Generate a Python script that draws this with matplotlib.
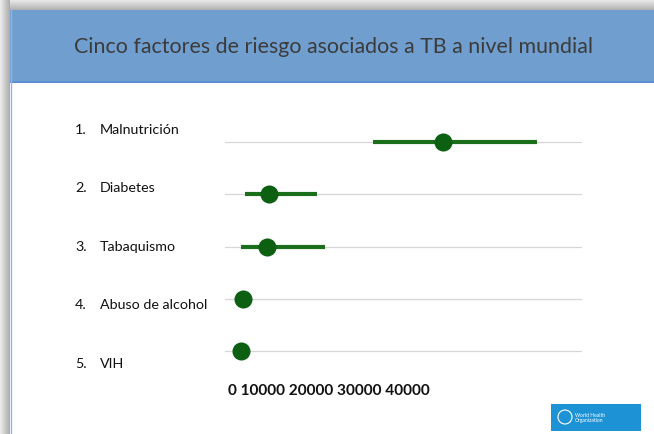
import matplotlib
matplotlib.use("Agg")
import matplotlib.pyplot as plt
import numpy as np
from matplotlib.patches import Rectangle

# ---- data ----
numbers = ["1.", "2.", "3.", "4.", "5."]
factors = ["Malnutrición", "Diabetes", "Tabaquismo", "Abuso de alcohol", "VIH"]
estimate = [30500, 6200, 5900, 2500, 2200]
low = [20700, 2800, 2200, 2500, 2200]
high = [43700, 12900, 14000, 2500, 2200]
tick_labels = ["0", "10000", "20000", "30000", "40000"]
title = "Cinco factores de riesgo asociados a TB a nivel mundial"

W, H = 654, 435
fig = plt.figure(figsize=(W / 100, H / 100), dpi=100)
fig.patch.set_facecolor("white")

FONT = "Lato"

# background axes in pixel coords
bg = fig.add_axes([0, 0, 1, 1])
bg.set_xlim(0, W)
bg.set_ylim(H, 0)
bg.axis("off")

# shadow gradients
top_grad = np.linspace(0.93, 0.70, 11).reshape(-1, 1) * np.ones((1, 10))
bg.imshow(np.dstack([top_grad] * 3), extent=(0, W, 11, 0), aspect="auto", zorder=0)
left_grad = np.ones((10, 1)) * np.linspace(0.92, 0.68, 10).reshape(1, -1)
bg.imshow(np.dstack([left_grad] * 3), extent=(0, 10, H, 0), aspect="auto", zorder=0)

# header band
bg.add_patch(Rectangle((10, 11), W - 10, 73, facecolor="#709fcf", edgecolor="none", zorder=1))
bg.add_patch(Rectangle((10, 82), W - 10, 2, facecolor="#5a8fd0", edgecolor="none", zorder=1))
bg.add_patch(Rectangle((10, 84), W - 10, H - 84, facecolor="white", edgecolor="none", zorder=1))
bg.plot([10.5, 10.5], [11, H], color="#8fb4e8", lw=1, zorder=2)
bg.text(333, 47, title, ha="center", va="center", fontsize=15.4, color="#3b3b3b",
        family=FONT, zorder=3)

# WHO logo box
bg.add_patch(Rectangle((551, 405), 90, 27, facecolor="#1d93d6", edgecolor="none", zorder=2))
bg.text(575, 418.5, "World Health\nOrganization", ha="left", va="center", fontsize=3.6,
        color="white", family=FONT, linespacing=1.0, zorder=3)
bg.add_patch(plt.Circle((565, 418), 7, facecolor="none", edgecolor="white", lw=0.8, zorder=3))

# data axes
left_px, right_px = 225, 582
top_px, bot_px = 117, 378
ax = fig.add_axes([left_px / W, 1 - bot_px / H, (right_px - left_px) / W, (bot_px - top_px) / H])
ax.set_facecolor("none")
n = len(factors)
ax.set_xlim(0, 50000)
ax.set_ylim(n - 0.5, -0.5)
ax.axis("off")

ys = np.arange(n)
for y in ys:
    ax.axhline(y, color="#d6d6d6", lw=0.9, zorder=1)
for y, lo, hi, est in zip(ys, low, high, estimate):
    if hi > lo:
        ax.plot([lo, hi], [y, y], color="#1b6e1b", lw=3, solid_capstyle="butt", zorder=2)
    ax.plot([est], [y], marker="o", markersize=13, color="#0d5f12", markeredgewidth=0, zorder=3)

# category labels (their own list-style layout in the slide)
label_top, label_step = 130, 58.5
for i, (num, name) in enumerate(zip(numbers, factors)):
    yy = label_top + i * label_step
    bg.text(75, yy, num, ha="left", va="center", fontsize=10.3, color="#111111",
            family=FONT, zorder=3)
    bg.text(100, yy, name, ha="left", va="center", fontsize=10.3, color="#111111",
            family=FONT, zorder=3)

bg.text(228, 391, " ".join(tick_labels), ha="left", va="center", fontsize=11.1,
        fontweight="bold", color="#111111", family=FONT, zorder=3)

fig.savefig("out.png", dpi=100)
